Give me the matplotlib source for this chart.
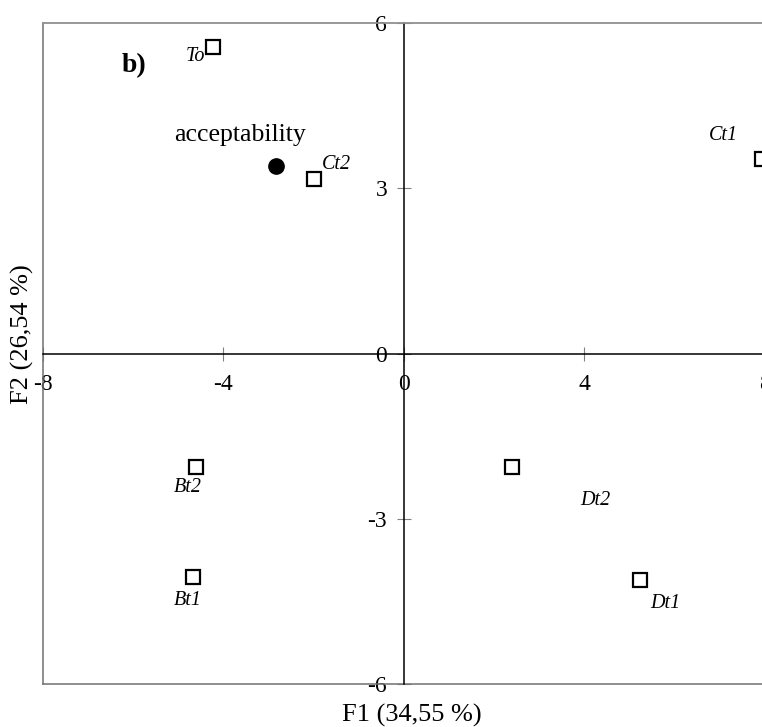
import numpy as np
import matplotlib
matplotlib.use('Agg')
import matplotlib.pyplot as plt

plt.rcParams['font.family'] = ['Liberation Serif', 'DejaVu Serif']

# Punkte der PCA (F1, F2)
labels = ['To', 'Ct2', 'Ct1', 'Bt2', 'Bt1', 'Dt2', 'Dt1']
f1 = [-4.24, -1.99, 7.94, -4.60, -4.68, 2.40, 5.23]
f2 = [5.56, 3.16, 3.53, -2.06, -4.05, -2.06, -4.12]

# Variable
var_name = 'acceptability'
var_f1 = -2.84
var_f2 = 3.41

x_ticks = [-8, -4, 0, 4, 8]
y_ticks = [-6, -3, 0, 3, 6]

# Verschiebung der Beschriftungen (Punkte)
label_offsets = {
    'To': (-12.6, -6.5),
    'Ct2': (16, 10.8),
    'Ct1': (-27.7, 17),
    'Bt2': (-6.1, -14.8),
    'Bt1': (-3.2, -17.3),
    'Dt2': (59.8, -24.1),
    'Dt1': (18.7, -16.6),
}

fig = plt.figure(figsize=(7.62, 7.27), dpi=100)
ax = fig.add_axes([43 / 762, 1 - 684 / 727, 721.6 / 762, 661 / 727])
ax.set_xlim(-8, 8)
ax.set_ylim(-6, 6)

# Achsen durch den Ursprung
ax.spines['left'].set_position(('data', 0))
ax.spines['bottom'].set_position(('data', 0))
ax.spines['left'].set_color('black')
ax.spines['bottom'].set_color('black')
ax.spines['left'].set_linewidth(1.1)
ax.spines['bottom'].set_linewidth(1.1)
ax.spines['right'].set_visible(False)
ax.spines['top'].set_color('#909090')
ax.spines['top'].set_linewidth(1.3)

# Rahmen links und unten
ax.plot([0, 0], [0, 1], color='#707070', lw=1.1, transform=ax.transAxes, clip_on=False)
ax.plot([0, 1], [0, 0], color='#707070', lw=1.1, transform=ax.transAxes, clip_on=False)

ax.set_xticks(x_ticks)
ax.set_yticks(y_ticks)
ax.set_xticklabels([str(t) for t in x_ticks])
ax.set_yticklabels([str(t) for t in y_ticks])
ax.tick_params(axis='both', direction='inout', length=10, width=0.8,
               color='#808080', labelsize=17)
ax.tick_params(axis='x', pad=10)
ax.tick_params(axis='y', pad=7)

ax.plot(f1, f2, 's', ms=9.5, mfc='white', mec='black', mew=1.6, ls='none',
        clip_on=False, zorder=5)
ax.plot(var_f1, var_f2, 'o', ms=11, color='black', zorder=5)

for lab, x, y in zip(labels, f1, f2):
    dx, dy = label_offsets[lab]
    ax.annotate(lab, (x, y), xytext=(dx, dy), textcoords='offset points',
                ha='center', va='center', fontsize=14.5, style='italic')

ax.annotate(var_name, (var_f1, var_f2), xytext=(-26, 22), textcoords='offset points',
            ha='center', va='center', fontsize=18.5)

ax.text(91 / 721.6, 1 - (66 - 23) / 661, 'b)', transform=ax.transAxes,
        ha='center', va='center', fontsize=20, fontweight='bold')

fig.text(412 / 762, 1 - 715 / 727, 'F1 (34,55 %)', ha='center', va='center', fontsize=19)
fig.text(22 / 762, 1 - 334 / 727, 'F2 (26,54 %)', ha='center', va='center',
         fontsize=19, rotation=90)

fig.savefig('out.png', dpi=100)
